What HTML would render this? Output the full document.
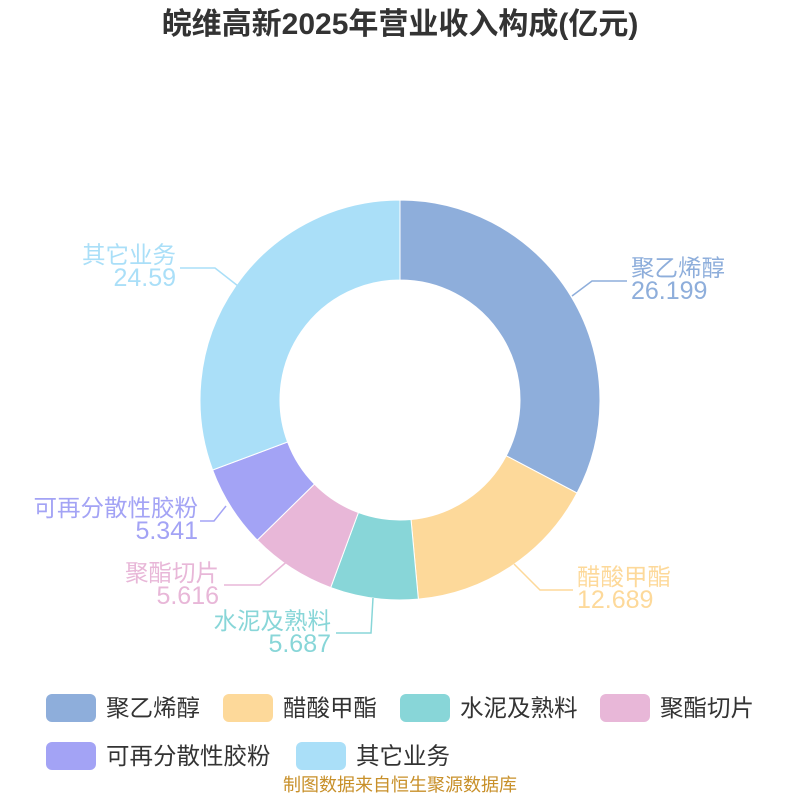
<!DOCTYPE html>
<html><head><meta charset="utf-8"><style>
body{margin:0;width:800px;height:800px;background:#fff;overflow:hidden;font-family:"Liberation Sans","Noto Sans CJK SC",sans-serif}
svg text{font-family:"Liberation Sans","Noto Sans CJK SC",sans-serif}
</style></head><body>
<svg id="s" width="800" height="800" xmlns="http://www.w3.org/2000/svg">
<text x="400" y="34" text-anchor="middle" font-size="30" font-weight="bold" fill="#333">皖维高新2025年营业收入构成(亿元)</text>
<g id="pie"></g>
<g fill="none" stroke-width="1.5">
<polyline points="572,296 592,281 627,281" stroke="#8eaedb"/>
<polyline points="514,564 540,590 573,590" stroke="#fdd99a"/>
<polyline points="373,598 371,633 336,633" stroke="#88d6d8"/>
<polyline points="291,558 260,585 224,585" stroke="#e8b7d8"/>
<polyline points="226,506 214,521 200,521" stroke="#a3a3f5"/>
<polyline points="238,286 215,268 180,268" stroke="#aadff8"/>
</g>
<g font-size="23.5">
<text x="631" y="276" fill="#8eaedb">聚乙烯醇</text><text x="631" y="299" fill="#8eaedb" font-size="25">26.199</text>
<text x="577" y="585" fill="#fdd99a">醋酸甲酯</text><text x="577" y="608" fill="#fdd99a" font-size="25">12.689</text>
<g text-anchor="end">
<text x="331" y="629" fill="#88d6d8">水泥及熟料</text><text x="331" y="652" fill="#88d6d8" font-size="25">5.687</text>
<text x="219" y="581" fill="#e8b7d8">聚酯切片</text><text x="219" y="604" fill="#e8b7d8" font-size="25">5.616</text>
<text x="198" y="516" fill="#a3a3f5">可再分散性胶粉</text><text x="198" y="539" fill="#a3a3f5" font-size="25">5.341</text>
<text x="176" y="263" fill="#aadff8">其它业务</text><text x="176" y="286" fill="#aadff8" font-size="25">24.59</text>
</g></g>
<g font-size="23.5" fill="#333">
<rect x="46" y="694" width="50" height="28" rx="6" fill="#8eaedb"/><text x="106" y="716">聚乙烯醇</text>
<rect x="223" y="694" width="50" height="28" rx="6" fill="#fdd99a"/><text x="283" y="716">醋酸甲酯</text>
<rect x="400" y="694" width="50" height="28" rx="6" fill="#88d6d8"/><text x="460" y="716">水泥及熟料</text>
<rect x="600" y="694" width="50" height="28" rx="6" fill="#e8b7d8"/><text x="660" y="716">聚酯切片</text>
<rect x="46" y="742" width="50" height="28" rx="6" fill="#a3a3f5"/><text x="106" y="764">可再分散性胶粉</text>
<rect x="296" y="742" width="50" height="28" rx="6" fill="#aadff8"/><text x="356" y="764">其它业务</text>
</g>
<text x="400" y="791" text-anchor="middle" font-size="18" fill="#c8902a">制图数据来自恒生聚源数据库</text>
</svg>
<script>
var v=[26.199,12.689,5.687,5.616,5.341,24.59],c=["#8eaedb","#fdd99a","#88d6d8","#e8b7d8","#a3a3f5","#aadff8"];
var t=v.reduce((a,b)=>a+b),a=0,cx=400,cy=400,R=200,r=120,h="";
function p(ang,rad){return [cx+rad*Math.sin(ang),cy-rad*Math.cos(ang)];}
v.forEach(function(x,i){var a1=a+x/t*2*Math.PI,l=(a1-a)>Math.PI?1:0;
var A=p(a,R),B=p(a1,R),C=p(a1,r),D=p(a,r);
h+='<path d="M'+A+' A'+R+','+R+' 0 '+l+' 1 '+B+' L'+C+' A'+r+','+r+' 0 '+l+' 0 '+D+'Z" fill="'+c[i]+'" stroke="#fff" stroke-width="1"/>';a=a1;});
document.getElementById("pie").innerHTML=h;
</script>
</body></html>
